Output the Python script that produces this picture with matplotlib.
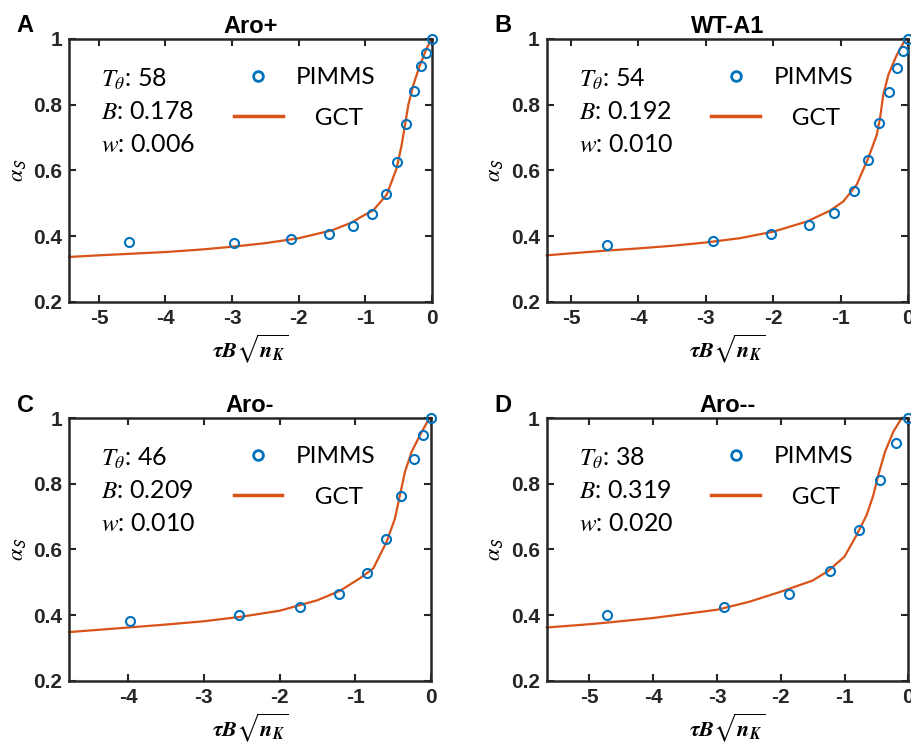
import matplotlib
matplotlib.use("Agg")
import matplotlib.pyplot as plt
from matplotlib.lines import Line2D

plt.rcParams['mathtext.fontset'] = 'stix'
plt.rcParams['font.family'] = ['Liberation Sans', 'DejaVu Sans']

# ---------------- data ----------------
titles = ["Aro+", "WT-A1", "Aro-", "Aro--"]
letters = ["A", "B", "C", "D"]
T_theta = ["58", "54", "46", "38"]
B_vals = ["0.178", "0.192", "0.209", "0.319"]
w_vals = ["0.006", "0.010", "0.010", "0.020"]
xlims = [(-5.45, 0), (-5.36, 0), (-4.78, 0), (-5.67, 0)]

pimms_x_A = [-4.55, -2.97, -2.11, -1.55, -1.18, -0.89, -0.68, -0.52, -0.38, -0.26, -0.16, -0.08, 0.0]
pimms_y_A = [0.382, 0.378, 0.391, 0.408, 0.432, 0.467, 0.528, 0.626, 0.741, 0.842, 0.919, 0.958, 1.0]
pimms_x_B = [-4.47, -2.90, -2.03, -1.47, -1.10, -0.81, -0.60, -0.43, -0.29, -0.17, -0.08, 0.0]
pimms_y_B = [0.372, 0.387, 0.406, 0.433, 0.472, 0.539, 0.632, 0.745, 0.840, 0.913, 0.964, 1.0]
pimms_x_C = [-3.98, -2.54, -1.73, -1.21, -0.85, -0.60, -0.39, -0.23, -0.11, 0.0]
pimms_y_C = [0.381, 0.399, 0.424, 0.464, 0.528, 0.633, 0.761, 0.874, 0.947, 1.0]
pimms_x_D = [-4.72, -2.89, -1.87, -1.22, -0.78, -0.45, -0.20, 0.0]
pimms_y_D = [0.399, 0.424, 0.464, 0.535, 0.660, 0.812, 0.925, 1.0]

gct_x_A = [-5.45, -5.0, -4.5, -4.0, -3.5, -3.0, -2.5, -2.0, -1.5, -1.2, -1.078, -0.878, -0.677,
           -0.526, -0.451, -0.401, -0.351, -0.276, -0.176, -0.075, 0.0]
gct_y_A = [0.337, 0.342, 0.347, 0.352, 0.359, 0.368, 0.379, 0.394, 0.418, 0.442, 0.457, 0.479, 0.526,
           0.607, 0.678, 0.739, 0.800, 0.860, 0.921, 0.972, 1.0]
gct_x_B = [-5.36, -5.0, -4.5, -4.0, -3.5, -3.0, -2.5, -2.0, -1.5, -1.16, -0.963, -0.765, -0.593,
           -0.468, -0.419, -0.371, -0.296, -0.172, -0.049, 0.0]
gct_y_B = [0.342, 0.348, 0.356, 0.363, 0.371, 0.381, 0.394, 0.414, 0.445, 0.478, 0.506, 0.557, 0.638,
           0.708, 0.759, 0.830, 0.891, 0.951, 0.997, 1.0]
gct_x_C = [-4.78, -4.5, -4.0, -3.5, -3.0, -2.5, -2.0, -1.5, -1.2, -0.938, -0.762, -0.586, -0.476,
           -0.41, -0.344, -0.256, -0.145, -0.035, 0.0]
gct_y_C = [0.348, 0.353, 0.362, 0.371, 0.381, 0.395, 0.413, 0.445, 0.474, 0.512, 0.542, 0.623, 0.694,
           0.765, 0.836, 0.897, 0.948, 0.994, 1.0]
gct_x_D = [-5.67, -5.0, -4.72, -4.0, -3.0, -2.5, -2.0, -1.5, -1.25, -1.0, -0.809, -0.652, -0.548,
           -0.47, -0.365, -0.235, -0.103]
gct_y_D = [0.362, 0.372, 0.377, 0.391, 0.416, 0.440, 0.471, 0.505, 0.535, 0.578, 0.644, 0.705, 0.765,
           0.826, 0.897, 0.958, 1.0]

pimms_x = [pimms_x_A, pimms_x_B, pimms_x_C, pimms_x_D]
pimms_y = [pimms_y_A, pimms_y_B, pimms_y_C, pimms_y_D]
gct_x = [gct_x_A, gct_x_B, gct_x_C, gct_x_D]
gct_y = [gct_y_A, gct_y_B, gct_y_C, gct_y_D]

yticks = [0.2, 0.4, 0.6, 0.8, 1.0]
ytick_labels = ["0.2", "0.4", "0.6", "0.8", "1"]

# ---------------- figure ----------------
W, H = 911, 743
fig = plt.figure(figsize=(W / 100, H / 100), dpi=100)

boxes = [(69, 39, 431.7, 302), (546.7, 39, 908.3, 302),
         (69, 418, 431, 680.7), (546.7, 418, 908.3, 680.7)]

blue = '#0072BD'
orange = '#D95319'
dark = '#262626'

for i in range(4):
    l, t, r, b = boxes[i]
    ax = fig.add_axes([l / W, 1 - b / H, (r - l) / W, (b - t) / H])
    ax.plot(gct_x[i], gct_y[i], color=orange, lw=1.6, zorder=2, clip_on=False)
    ax.plot(pimms_x[i], pimms_y[i], 'o', mfc='none', mec=blue, mew=1.5, ms=6.5, zorder=3, clip_on=False)
    ax.set_xlim(*xlims[i])
    ax.set_ylim(0.2, 1.0)
    lo = int(round(xlims[i][0] + 0.49))
    xt = list(range(lo, 1))
    ax.set_xticks(xt)
    ax.set_xticklabels([str(v) for v in xt])
    ax.set_yticks(yticks)
    ax.set_yticklabels(ytick_labels)
    for s in ax.spines.values():
        s.set_linewidth(1.8)
        s.set_color(dark)
    ax.tick_params(direction='in', top=True, right=True, length=5, width=1.5, colors=dark,
                   labelsize=15, pad=5)
    for lab in ax.get_xticklabels() + ax.get_yticklabels():
        lab.set_fontweight('bold')
    ax.set_title(titles[i], fontsize=17, fontweight='bold', pad=4)
    ax.set_xlabel(r'$\mathbfit{\tau B}\sqrt{\mathbfit{n}_{\mathbfit{K}}}$', fontsize=16, labelpad=3)
    ax.set_ylabel(r'$\alpha_{\mathsf{S}}$', fontsize=16, labelpad=4)

    ax.text(0.088, 0.817, r'$T_{\theta}$: ' + T_theta[i], transform=ax.transAxes, fontsize=18,
            family='Lato', va='baseline')
    ax.text(0.088, 0.696, r'$B$: ' + B_vals[i], transform=ax.transAxes, fontsize=18,
            family='Lato', va='baseline')
    ax.text(0.088, 0.570, r'$w$: ' + w_vals[i], transform=ax.transAxes, fontsize=18,
            family='Lato', va='baseline')

    handles = [Line2D([], [], ls='none', marker='o', mfc='none', mec=blue, mew=2, ms=7),
               Line2D([], [], color=orange, lw=2.5)]
    ax.legend(handles, ['PIMMS', '   GCT'], loc='upper left', bbox_to_anchor=(0.395, 0.975),
              frameon=False, prop={'family': 'Lato', 'size': 17.5}, handlelength=2.0,
              handletextpad=0.55, labelspacing=0.8)

    fig.text((l - 44) / W, 1 - (t - 13) / H, letters[i], fontsize=17, fontweight='bold',
             ha='center', va='center')

fig.savefig('out.png', dpi=100, facecolor='white')
